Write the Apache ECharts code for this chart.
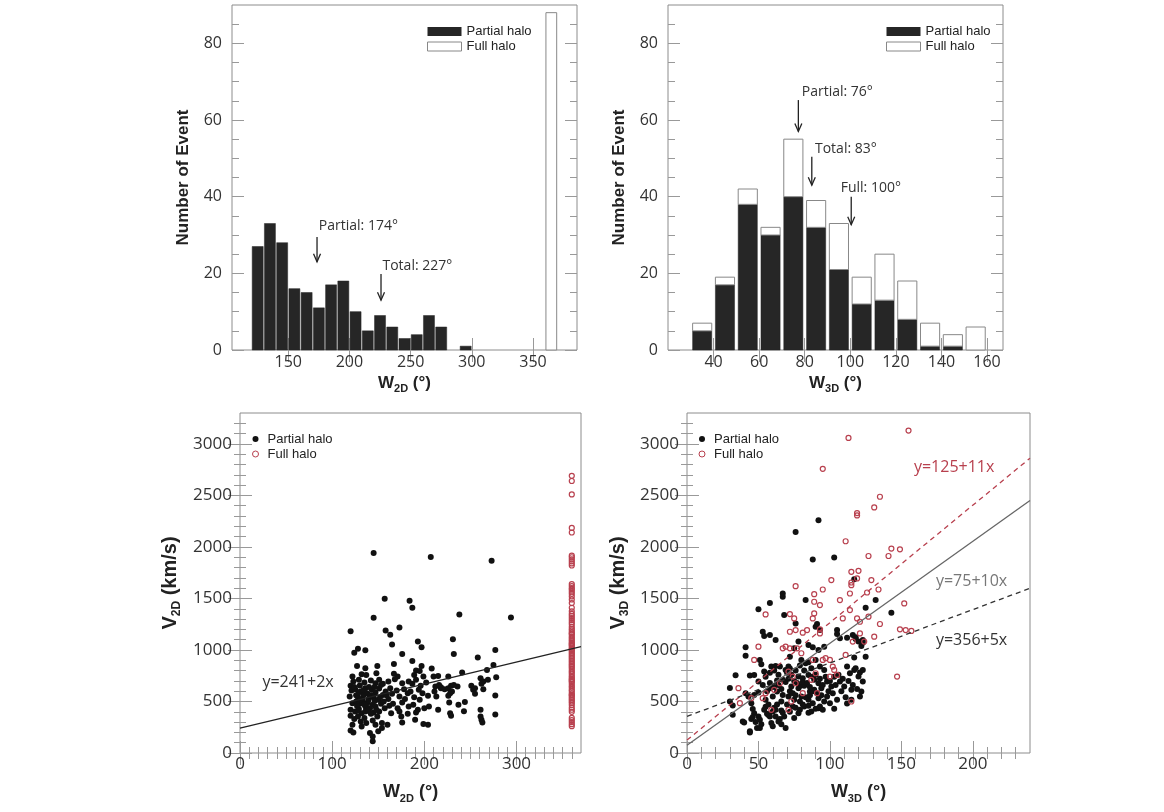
<!DOCTYPE html>
<html><head><meta charset="utf-8">
<script src="https://cdn.jsdelivr.net/npm/echarts@6/dist/echarts.min.js"></script>
<style>html,body{margin:0;padding:0;background:#fff}#c{width:1164px;height:812px}</style>
</head><body><div id="c"></div>
<script>
// ---------------- DATA ----------------
const binWidth = 10;
// Top-left histogram (W2D)
const binStart2D = [120,130,140,150,160,170,180,190,200,210,220,230,240,250,260,270,280,290];
const partialCount2D = [27,33,28,16,15,11,17,18,10,5,9,6,3,4,9,6,0,1];
const fullBinStart2D = [360];
const fullCount2D = [88];
// Top-right histogram (W3D), stacked
const binStart3D = [30,40,50,60,70,80,90,100,110,120,130,140,150];
const partialCount3D = [5,17,38,30,40,32,21,12,13,8,1,1,0];
const fullCount3D = [2,2,4,2,15,7,12,7,12,10,6,3,6];

// Tick labels
const ticksTLx = [150,200,250,300,350];
const ticksTRx = [40,60,80,100,120,140,160];
const ticksHistY = [0,20,40,60,80];
const ticksBLx = [0,100,200,300];
const ticksBRx = [0,50,100,150,200];
const ticksScatY = [0,500,1000,1500,2000,2500,3000];

// Median arrows
const arrowTLx = [173.5, 225.8];
const arrowTLyFrom = [29.5, 19.8];
const arrowTLyTo = [23, 13];
const arrowTLtextX = [175, 227];
const arrowTLtextY = [32.3, 22];
const arrowTLtext = ['Partial: 174°', 'Total: 227°'];

const arrowTRx = [77.2, 83.1, 100.4];
const arrowTRyFrom = [65.2, 50.4, 40];
const arrowTRyTo = [57, 43, 32.7];
const arrowTRtextX = [78.7, 84.5, 95.8];
const arrowTRtextY = [67.4, 52.4, 42.3];
const arrowTRtext = ['Partial: 76°', 'Total: 83°', 'Full: 100°'];

// Bottom-left scatter (W2D vs V2D)
const partial2D = [
[145,1942],[207,1903],[157,1497],[184,1477],[187,1410],[145,1313],[120,1181],[158,1190],[163,1148],[173,1219],[193,1081],[197,1026],[165,1052],[124,974],[128,1013],[136,997],[176,961],[187,894],[197,845],[208,819],[127,845],[136,823],[149,845],[167,864],[191,800],[195,797],
[122,742],[132,764],[137,758],[148,774],[167,768],[171,742],[189,758],[199,742],[210,742],[215,748],[123,694],[120,652],[129,710],[135,684],[142,703],[147,677],[151,710],[155,671],[161,694],[168,716],[176,677],[183,694],[187,671],[191,710],[196,652],[202,684],[212,645],[216,661],
[121,606],[125,619],[131,597],[136,629],[138,581],[143,613],[147,587],[151,626],[155,564],[158,597],[163,629],[165,574],[170,606],[173,548],[178,619],[182,581],[185,597],[189,542],[194,613],[198,581],[204,555],[211,597],[218,629],[119,548],[128,542],[133,523],[140,532],[145,542],[150,516],[161,523],[179,523],[195,516],[213,548],
[122,484],[126,500],[130,477],[133,490],[136,452],[138,484],[141,435],[144,468],[147,452],[153,477],[157,435],[162,458],[166,477],[171,435],[176,490],[183,452],[188,468],[193,419],[200,435],[205,452],[215,419],[120,419],[125,403],[129,426],[132,387],[136,403],[145,393],[151,403],[164,387],[173,403],[191,393],
[120,361],[124,329],[128,355],[131,306],[135,339],[137,290],[144,316],[149,355],[154,290],[160,274],[175,355],[176,297],[182,381],[190,323],[204,274],[122,274],[132,258],[147,274],
[120,219],[123,200],[141,194],[144,161],[150,210],[144,113],[154,242],[199,282],
[273,1865],[238,1345],[294,1316],[231,1103],[232,961],[277,1000],[258,926],[275,855],[268,806],[241,781],[226,742],[278,735],[261,726],[264,693],[269,710],[262,671],[229,652],[236,645],[232,660],[218,639],[222,619],[226,629],[251,652],[255,629],[253,613],[228,581],[226,555],[230,597],[264,619],[255,574],[277,558],[227,490],[244,494],[237,468],[261,419],[243,406],[228,387],[229,361],[277,374],[261,355],[262,323],[263,297],
[126,560],[129,590],[134,560],[139,505],[142,560],[127,455],[131,520],[135,470],[139,410],[142,380],[146,505],[152,540],[156,500],[159,560],[124,640],[130,655],[140,640],[146,640],[153,660],[134,610],[128,410],[148,420]
];
const fullW2D = 360;
const fullV2D = [2690,2640,2510,2185,2140,1915,1900,1880,1860,1840,1820,1640,1620,1600,1585,1565,1545,1520,1490,1455,1410,1375,1350,1330,1310,1290,1270,1250,1225,1205,1190,1170,1150,1130,1115,1100,1085,1070,1050,1040,1025,1010,1000,985,970,955,940,925,910,895,880,865,850,835,820,800,785,770,750,735,720,700,690,670,650,635,615,600,580,565,545,530,515,500,485,465,440,420,400,340,320,300,280,260,560,710,1060,1160];

// Bottom-right scatter (W3D vs V3D)
const partial3D = [
[92,2258],[76,2145],[88,1877],[103,1897],[117,1687],[67,1548],[67,1516],[83,1484],[58,1455],[50,1395],[41,1026],[41,945],[132,1484],[125,1410],[143,1361],[68,1339],[76,1258],[91,1252],[93,1193],[105,1193],[112,1119],[118,1106],[120,1081],[123,1097],[122,1039],[125,935],[117,926],[112,839],[117,806],[120,742],[121,781],[34,755],[30,632],[30,500],[32,371],[39,306],[44,210],[49,242],[69,242],
[53,1177],[54,1135],[58,1145],[62,1097],[44,752],[51,903],[52,861],[47,758],[54,790],[59,839],[62,845],[65,839],[50,694],[53,661],[58,629],[63,703],[67,710],[41,581],[43,548],[47,564],[50,587],[55,516],[60,548],[63,597],[67,564],[32,461],[45,484],[46,426],[47,387],[50,355],[51,323],[54,419],[56,381],[58,355],[60,403],[62,355],[66,413],[64,306],[68,355],[40,297],[44,200],[51,242],[59,290],[65,329],
[90,1226],[85,1048],[88,1026],[92,1000],[96,1032],[105,1155],[107,1113],[116,1145],[118,1123],[123,1071],
[78,1081],[75,1016],[72,935],[71,839],[69,806],[80,903],[83,871],[87,823],[90,903],[93,839],[96,806],
[78,742],[81,726],[85,758],[89,710],[92,677],[98,694],[107,694],[114,774],[118,823],[123,806],
[73,645],[78,629],[82,652],[86,597],[89,613],[94,629],[101,645],[110,645],[115,613],[122,597],
[71,548],[75,516],[80,548],[85,516],[88,484],[92,532],[98,548],[105,516],[115,516],[121,548],[123,694],
[74,452],[79,419],[82,452],[87,403],[93,452],[78,387],[85,458],[92,435],[100,484],
[45,330],[48,300],[52,280],[46,350],[55,450],[57,470],[61,440],[63,470],[66,500],[70,470],[72,600],[74,580],[76,560],[79,500],[81,470],[83,540],[86,560],[88,600],[91,580],[94,560],[96,500],[99,600],[102,580],[104,660],[108,600],[111,540],[113,700],[116,660],[119,620],
[56,600],[58,680],[61,640],[64,660],[66,620],[69,690],[71,720],[73,760],[75,700],[77,680],[79,650],[81,690],[84,680],[86,640],[88,740],[90,760],[93,720],[95,660],[97,740],[100,700],[103,740],[106,760],[109,720],
[55,740],[58,780],[61,800],[64,760],[70,780],[72,820],[76,800],[79,850],[82,800],[85,880],
[57,370],[62,420],[67,390],[72,400],[76,440],[90,430],[95,420],[103,430],[112,480],[60,260],[75,340],[85,390],[66,280]
];
const full3D = [
[155,3129],[113,3058],[95,2758],[135,2487],[131,2384],[119,2329],[119,2306],[111,2055],[127,1912],[141,1912],[143,1984],[149,1977],
[115,1758],[120,1768],[119,1694],[115,1655],[115,1629],[101,1678],[76,1619],[95,1587],[89,1542],[89,1468],[93,1436],[129,1678],[134,1587],[126,1558],[107,1484],[114,1548],[152,1452],[114,1387],[72,1348],[55,1345],[75,1306],[89,1355],[88,1306],[109,1306],[119,1306],[121,1274],[127,1323],[135,1252],[131,1129],[124,1081],[116,1081],[121,1161],[72,1177],[76,1193],[81,1168],[84,1193],[93,1200],[93,1161],[111,952],[147,742],[149,1200],[153,1193],[50,1032],[47,903],[36,629],[37,484],[59,419],[67,1016],[72,1016],[69,1032],[77,1016],[80,968],[88,903],[95,903],[97,920],[100,903],[102,839],[103,806],[105,758],[100,742],[90,774],[87,710],[71,790],[74,742],[76,677],[65,677],[61,613],[55,581],[53,532],[73,500],[81,581],[91,581],[71,419],[115,500],[45,532],[157,1185]
];

// Linear fits
const fitBLIntercept = [241];
const fitBLSlope = [2.14];
const fitBLLabel = ['y=241+2x'];
const fitBLLabelX = [24.3];
const fitBLLabelY = [683];

const fitBRIntercept = [125, 75, 356];
const fitBRSlope = [11.4, 9.9, 5.18];
const fitBRLabel = ['y=125+11x', 'y=75+10x', 'y=356+5x'];
const fitBRLabelX = [158.8, 174.2, 174.2];
const fitBRLabelY = [2774, 1661, 1096];

// ---------------- STYLE ----------------
const LABEL_FONT = '"Open Sans", "DejaVu Sans", sans-serif';
const TITLE_FONT = '"Liberation Sans", Arial, sans-serif';
const FRAME = '#8c8c8c';
const TICK = '#999';
const BAR_DARK = '#262626';
const RED = '#b8404e';
const fitBRColor = [RED, '#666', '#333'];
const fitBRDash = ['dashed', 'solid', 'dashed'];
const fitBRLabelColor = [RED, '#777', '#333'];

function steps(a, b, step, skip) {
  const r = [];
  for (let v = a; v <= b + 1e-9; v += step) {
    const vv = Math.round(v * 1000) / 1000;
    if (!skip || Math.abs(vv / skip - Math.round(vv / skip)) > 1e-6) r.push(vv);
  }
  return r;
}

const grid = [
  {left:232, top:5, width:345, height:345},
  {left:668, top:5, width:335, height:345},
  {left:240, top:413, width:341, height:340},
  {left:687, top:413, width:343, height:340}
].map(g => Object.assign({show:true, borderColor:FRAME, borderWidth:1, backgroundColor:'transparent', containLabel:false, outerBoundsMode:'none'}, g));

const xAxis = [], yAxis = [];
function mkAxis(gi, pos, min, max, ticks, len, label, extra) {
  return Object.assign({
    type:'value', gridIndex:gi, position:pos, min:min, max:max,
    axisLine:{show:false}, splitLine:{show:false}, minorTick:{show:false},
    axisTick:{show:true, inside:true, length:len, customValues:ticks, lineStyle:{color:TICK, width:1}},
    axisLabel: label ? Object.assign({show:true, customValues:ticks, color:'#333', fontFamily:LABEL_FONT, formatter:v => String(v)}, label) : {show:false},
    nameMoveOverlap:false, silent:true
  }, extra || {});
}
function addSide(list, gi, posMain, posOther, r) {
  const idx = list.length;
  list.push(mkAxis(gi, posMain, r.min, r.max, r.major, r.majorLen, r.label, r.name));
  if (r.minor.length) list.push(mkAxis(gi, posMain, r.min, r.max, r.minor, r.minorLen));
  list.push(mkAxis(gi, posOther, r.min, r.max, r.major, r.majorLen));
  if (r.minor.length) list.push(mkAxis(gi, posOther, r.min, r.max, r.minor, r.minorLen));
  return idx;
}
function subName(main, sub, rest, size) {
  return {
    name:'{a|' + main + '}{b|' + sub + '}{a|' + rest + '}',
    nameLocation:'middle',
    nameTextStyle:{rich:{
      a:{fontFamily:TITLE_FONT, fontWeight:'bold', fontSize:size, color:'#222', lineHeight:size + 5},
      b:{fontFamily:TITLE_FONT, fontWeight:'bold', fontSize:Math.round(size * 0.62), color:'#222', lineHeight:size + 5, verticalAlign:'bottom'}
    }}
  };
}
const histLabelX = {fontSize:16, margin:4};
const histLabelY = {fontSize:16, margin:10};
const scatLabelX = {fontSize:17, margin:3};
const scatLabelY = {fontSize:17, margin:8};
const histYName = {name:'Number of Event', nameLocation:'middle', nameRotate:90,
  nameTextStyle:{fontFamily:TITLE_FONT, fontWeight:'bold', fontSize:17, color:'#222'}};

// Panel 0: top-left
const x0 = addSide(xAxis, 0, 'bottom', 'top', {min:104, max:386, major:ticksTLx, minor:[], majorLen:12, minorLen:7, label:histLabelX,
  name:Object.assign(subName('W', '2D', ' (°)', 17), {nameGap:22})});
const y0 = addSide(yAxis, 0, 'left', 'right', {min:0, max:90, major:ticksHistY, minor:steps(5, 85, 5, 20), majorLen:12, minorLen:7, label:histLabelY,
  name:Object.assign({}, histYName, {nameGap:40})});
// Panel 1: top-right
const x1 = addSide(xAxis, 1, 'bottom', 'top', {min:20, max:167, major:ticksTRx, minor:[], majorLen:12, minorLen:7, label:histLabelX,
  name:Object.assign(subName('W', '3D', ' (°)', 17), {nameGap:22})});
const y1 = addSide(yAxis, 1, 'left', 'right', {min:0, max:90, major:ticksHistY, minor:steps(5, 85, 5, 20), majorLen:12, minorLen:7, label:histLabelY,
  name:Object.assign({}, histYName, {nameGap:40})});
// Panel 2: bottom-left
const x2 = addSide(xAxis, 2, 'bottom', 'top', {min:0, max:370, major:ticksBLx, minor:steps(10, 360, 10, 100), majorLen:12, minorLen:6, label:scatLabelX,
  name:Object.assign(subName('W', '2D', ' (°)', 18), {nameGap:28})});
const y2 = addSide(yAxis, 2, 'left', 'right', {min:0, max:3300, major:ticksScatY, minor:steps(100, 3200, 100, 500), majorLen:12, minorLen:6, label:scatLabelY,
  name:Object.assign(subName('V', '2D', ' (km/s)', 20), {nameGap:57, nameRotate:90})});
// Panel 3: bottom-right
const x3 = addSide(xAxis, 3, 'bottom', 'top', {min:0, max:240, major:ticksBRx, minor:steps(10, 230, 10, 50), majorLen:12, minorLen:6, label:scatLabelX,
  name:Object.assign(subName('W', '3D', ' (°)', 18), {nameGap:28})});
const y3 = addSide(yAxis, 3, 'left', 'right', {min:0, max:3300, major:ticksScatY, minor:steps(100, 3200, 100, 500), majorLen:12, minorLen:6, label:scatLabelY,
  name:Object.assign(subName('V', '3D', ' (km/s)', 20), {nameGap:56, nameRotate:90})});

// ---------------- RENDER HELPERS ----------------
function barRender(frac, fill, stroke, lw) {
  return function (params, api) {
    const xs = api.value(0), lo = api.value(1), hi = api.value(2), w = api.value(3);
    const a = api.coord([xs + w * frac, hi]);
    const b = api.coord([xs + w * (1 - frac), lo]);
    return {type:'rect', shape:{x:a[0], y:a[1], width:b[0] - a[0], height:b[1] - a[1]},
      style:{fill:fill, stroke:stroke, lineWidth:lw}};
  };
}
function arrowRender(texts) {
  return function (params, api) {
    const p0 = api.coord([api.value(0), api.value(1)]);
    const p1 = api.coord([api.value(0), api.value(2)]);
    const pt = api.coord([api.value(3), api.value(4)]);
    return {type:'group', children:[
      {type:'line', shape:{x1:p0[0], y1:p0[1], x2:p1[0], y2:p1[1]}, style:{stroke:'#222', lineWidth:1.3}},
      {type:'polyline', shape:{points:[[p1[0] - 3.5, p1[1] - 8], [p1[0], p1[1]], [p1[0] + 3.5, p1[1] - 8]]}, style:{stroke:'#222', lineWidth:1.3, fill:null}},
      {type:'text', style:{text:texts[params.dataIndex], x:pt[0], y:pt[1], fill:'#333', font:'14px ' + LABEL_FONT,
        align:'left', textAlign:'left', verticalAlign:'middle', textVerticalAlign:'middle'}}
    ]};
  };
}
function textRender(texts, colors) {
  return function (params, api) {
    const pt = api.coord([api.value(0), api.value(1)]);
    return {type:'text', style:{text:texts[params.dataIndex], x:pt[0], y:pt[1], fill:colors[params.dataIndex], font:'16px ' + LABEL_FONT,
      align:'left', textAlign:'left', verticalAlign:'middle', textVerticalAlign:'middle'}};
  };
}

// ---------------- SERIES ----------------
const histTLPartial = binStart2D.map((b, i) => [b, 0, partialCount2D[i], binWidth]).filter(d => d[2] > 0);
const histTLFull = fullBinStart2D.map((b, i) => [b, 0, fullCount2D[i], binWidth]);
const histTRPartial = binStart3D.map((b, i) => [b, 0, partialCount3D[i], binWidth]).filter(d => d[2] > 0);
const histTRFull = binStart3D.map((b, i) => [b, partialCount3D[i], partialCount3D[i] + fullCount3D[i], binWidth]).filter(d => d[2] > d[1]);

const series = [
  {type:'custom', name:'Partial halo', xAxisIndex:x0, yAxisIndex:y0, renderItem:barRender(0.05, BAR_DARK, BAR_DARK, 0.5), data:histTLPartial, encode:{x:0, y:2}, silent:true},
  {type:'custom', name:'Full halo', xAxisIndex:x0, yAxisIndex:y0, renderItem:barRender(0.06, '#fff', '#888', 1), data:histTLFull, encode:{x:0, y:2}, silent:true},
  {type:'custom', name:'arrowsTL', xAxisIndex:x0, yAxisIndex:y0, renderItem:arrowRender(arrowTLtext),
    data:arrowTLx.map((x, i) => [x, arrowTLyFrom[i], arrowTLyTo[i], arrowTLtextX[i], arrowTLtextY[i]]), encode:{x:0, y:1}, silent:true},

  {type:'custom', name:'Partial halo', xAxisIndex:x1, yAxisIndex:y1, renderItem:barRender(0.08, BAR_DARK, BAR_DARK, 0.5), data:histTRPartial, encode:{x:0, y:2}, silent:true},
  {type:'custom', name:'Full halo', xAxisIndex:x1, yAxisIndex:y1, renderItem:barRender(0.08, '#fff', '#888', 1), data:histTRFull, encode:{x:0, y:2}, silent:true},
  {type:'custom', name:'arrowsTR', xAxisIndex:x1, yAxisIndex:y1, renderItem:arrowRender(arrowTRtext),
    data:arrowTRx.map((x, i) => [x, arrowTRyFrom[i], arrowTRyTo[i], arrowTRtextX[i], arrowTRtextY[i]]), encode:{x:0, y:1}, silent:true},

  {type:'scatter', name:'Partial halo\u00a0', xAxisIndex:x2, yAxisIndex:y2, data:partial2D, symbol:'circle', symbolSize:6, itemStyle:{color:'#111', opacity:1}, silent:true},
  {type:'scatter', name:'Full halo\u00a0', xAxisIndex:x2, yAxisIndex:y2, data:fullV2D.map(v => [fullW2D, v]), symbol:'circle', symbolSize:5,
    itemStyle:{color:'rgba(255,255,255,0)', borderColor:RED, borderWidth:1.2, opacity:1}, silent:true},
  {type:'line', name:'fitBL', xAxisIndex:x2, yAxisIndex:y2, showSymbol:false, symbol:'none', silent:true,
    data:[[0, fitBLIntercept[0]], [370, fitBLIntercept[0] + fitBLSlope[0] * 370]], lineStyle:{color:'#222', width:1.3}},
  {type:'custom', name:'fitLabelBL', xAxisIndex:x2, yAxisIndex:y2, renderItem:textRender(fitBLLabel, ['#333']),
    data:fitBLLabelX.map((x, i) => [x, fitBLLabelY[i]]), encode:{x:0, y:1}, silent:true},

  {type:'scatter', name:'Partial halo\u00a0', xAxisIndex:x3, yAxisIndex:y3, data:partial3D, symbol:'circle', symbolSize:6, itemStyle:{color:'#111', opacity:1}, silent:true},
  {type:'scatter', name:'Full halo\u00a0', xAxisIndex:x3, yAxisIndex:y3, data:full3D, symbol:'circle', symbolSize:5,
    itemStyle:{color:'rgba(255,255,255,0)', borderColor:RED, borderWidth:1.2, opacity:1}, silent:true}
];
fitBRIntercept.forEach((b, i) => {
  series.push({type:'line', name:'fitBR' + i, xAxisIndex:x3, yAxisIndex:y3, showSymbol:false, symbol:'none', silent:true,
    data:[[0, b], [240, b + fitBRSlope[i] * 240]],
    lineStyle:{color:fitBRColor[i], width:1.3, type:fitBRDash[i] === 'dashed' ? [5, 4] : 'solid'}});
});
series.push({type:'custom', name:'fitLabelBR', xAxisIndex:x3, yAxisIndex:y3, renderItem:textRender(fitBRLabel, fitBRLabelColor),
  data:fitBRLabelX.map((x, i) => [x, fitBRLabelY[i]]), encode:{x:0, y:1}, silent:true});

const histLegendData = [
  {name:'Partial halo', icon:'rect', itemStyle:{color:BAR_DARK, borderWidth:0}},
  {name:'Full halo', icon:'rect', itemStyle:{color:'#fff', borderColor:'#888', borderWidth:1}}
];
const scatLegendData = [
  {name:'Partial halo\u00a0', icon:'circle', itemStyle:{color:'#111', borderWidth:0}},
  {name:'Full halo\u00a0', icon:'circle', itemStyle:{color:'#fff', borderColor:RED, borderWidth:1}}
];
function legend(left, top, data, w, h, pad) {
  return {left:left, top:top, orient:'vertical', itemWidth:w, itemHeight:h, itemGap:0, selectedMode:false, padding:0,
    formatter:n => n.replace(/\s+$/, ''), data:data,
    textStyle:{fontFamily:TITLE_FONT, fontSize:13, color:'#222', lineHeight:15, padding:[0, 0, 0, pad]}};
}

const option = {
  animation:false,
  backgroundColor:'#fff',
  grid:grid,
  xAxis:xAxis,
  yAxis:yAxis,
  legend:[
    legend(427, 24, histLegendData, 34, 9, 0),
    legend(886, 24, histLegendData, 34, 9, 0),
    legend(252, 431.5, scatLegendData, 6, 6, 4),
    legend(698.5, 431.5, scatLegendData, 6, 6, 4)
  ],
  series:series
};
const chart = echarts.init(document.getElementById('c'), null, {renderer:'canvas'});
chart.setOption(option);
</script></body></html>
